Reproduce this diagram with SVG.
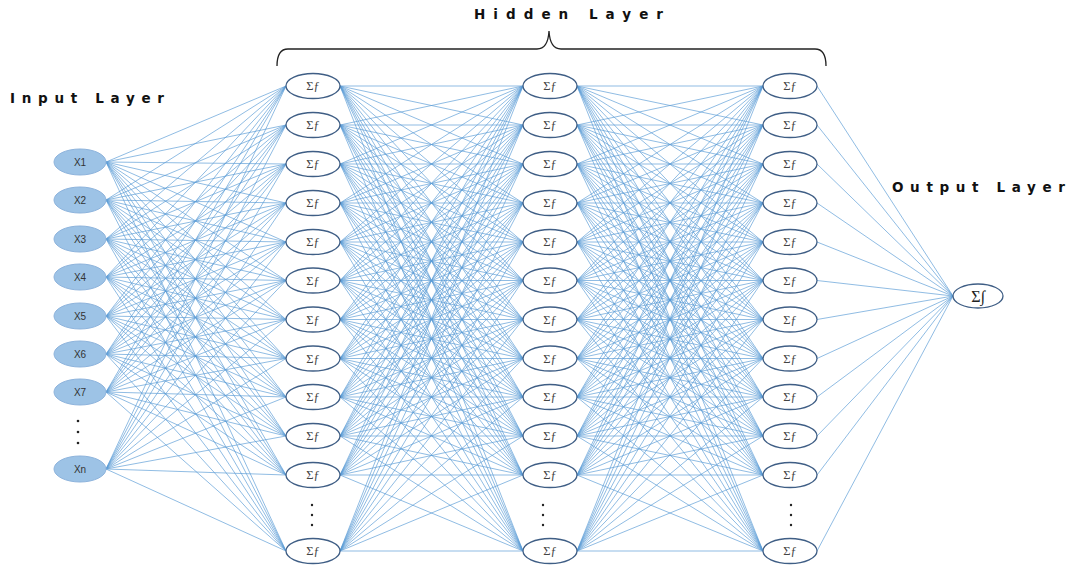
<svg xmlns="http://www.w3.org/2000/svg" width="1069" height="572" viewBox="0 0 1069 572">
<style>
.e{fill:none;stroke:#5b9bd5;stroke-width:0.75;stroke-opacity:0.9}
.in{fill:#9dc3e6;stroke:#8db3dc;stroke-width:1}
.hn{fill:#fff;stroke:#3f5e85;stroke-width:1.3}
.it{font-family:"Liberation Sans",Arial,sans-serif;font-size:10px;fill:#333;text-anchor:middle}
.ht{font-family:"Liberation Serif","DejaVu Serif",serif;font-size:12.5px;fill:#444;text-anchor:middle}
.ttl{font-family:"DejaVu Sans",sans-serif;font-weight:bold;font-size:13.5px;fill:#111}
.dot{fill:#222}
</style>
<rect width="1069" height="572" fill="#fff"/>
<g id="connectors">
<path class="e" d="M106 162 286 86M106 162 286 125M106 162 286 164M106 162 286 203M106 162 286 242M106 162 286 280.5M106 162 286 319.5M106 162 286 358.5M106 162 286 397M106 162 286 436M106 162 286 475M106 162 286 551
M106 200 286 86M106 200 286 125M106 200 286 164M106 200 286 203M106 200 286 242M106 200 286 280.5M106 200 286 319.5M106 200 286 358.5M106 200 286 397M106 200 286 436M106 200 286 475M106 200 286 551
M106 239 286 86M106 239 286 125M106 239 286 164M106 239 286 203M106 239 286 242M106 239 286 280.5M106 239 286 319.5M106 239 286 358.5M106 239 286 397M106 239 286 436M106 239 286 475M106 239 286 551
M106 277 286 86M106 277 286 125M106 277 286 164M106 277 286 203M106 277 286 242M106 277 286 280.5M106 277 286 319.5M106 277 286 358.5M106 277 286 397M106 277 286 436M106 277 286 475M106 277 286 551
M106 316 286 86M106 316 286 125M106 316 286 164M106 316 286 203M106 316 286 242M106 316 286 280.5M106 316 286 319.5M106 316 286 358.5M106 316 286 397M106 316 286 436M106 316 286 475M106 316 286 551
M106 354 286 86M106 354 286 125M106 354 286 164M106 354 286 203M106 354 286 242M106 354 286 280.5M106 354 286 319.5M106 354 286 358.5M106 354 286 397M106 354 286 436M106 354 286 475M106 354 286 551
M106 392 286 86M106 392 286 125M106 392 286 164M106 392 286 203M106 392 286 242M106 392 286 280.5M106 392 286 319.5M106 392 286 358.5M106 392 286 397M106 392 286 436M106 392 286 475M106 392 286 551
M106 469 286 86M106 469 286 125M106 469 286 164M106 469 286 203M106 469 286 242M106 469 286 280.5M106 469 286 319.5M106 469 286 358.5M106 469 286 397M106 469 286 436M106 469 286 475M106 469 286 551"/>
<path class="e" d="M340 86 523 86M340 86 523 125M340 86 523 164M340 86 523 203M340 86 523 242M340 86 523 280.5M340 86 523 319.5M340 86 523 358.5M340 86 523 397M340 86 523 436M340 86 523 475M340 86 523 551
M340 125 523 86M340 125 523 125M340 125 523 164M340 125 523 203M340 125 523 242M340 125 523 280.5M340 125 523 319.5M340 125 523 358.5M340 125 523 397M340 125 523 436M340 125 523 475M340 125 523 551
M340 164 523 86M340 164 523 125M340 164 523 164M340 164 523 203M340 164 523 242M340 164 523 280.5M340 164 523 319.5M340 164 523 358.5M340 164 523 397M340 164 523 436M340 164 523 475M340 164 523 551
M340 203 523 86M340 203 523 125M340 203 523 164M340 203 523 203M340 203 523 242M340 203 523 280.5M340 203 523 319.5M340 203 523 358.5M340 203 523 397M340 203 523 436M340 203 523 475M340 203 523 551
M340 242 523 86M340 242 523 125M340 242 523 164M340 242 523 203M340 242 523 242M340 242 523 280.5M340 242 523 319.5M340 242 523 358.5M340 242 523 397M340 242 523 436M340 242 523 475M340 242 523 551
M340 280.5 523 86M340 280.5 523 125M340 280.5 523 164M340 280.5 523 203M340 280.5 523 242M340 280.5 523 280.5M340 280.5 523 319.5M340 280.5 523 358.5M340 280.5 523 397M340 280.5 523 436M340 280.5 523 475M340 280.5 523 551
M340 319.5 523 86M340 319.5 523 125M340 319.5 523 164M340 319.5 523 203M340 319.5 523 242M340 319.5 523 280.5M340 319.5 523 319.5M340 319.5 523 358.5M340 319.5 523 397M340 319.5 523 436M340 319.5 523 475M340 319.5 523 551
M340 358.5 523 86M340 358.5 523 125M340 358.5 523 164M340 358.5 523 203M340 358.5 523 242M340 358.5 523 280.5M340 358.5 523 319.5M340 358.5 523 358.5M340 358.5 523 397M340 358.5 523 436M340 358.5 523 475M340 358.5 523 551
M340 397 523 86M340 397 523 125M340 397 523 164M340 397 523 203M340 397 523 242M340 397 523 280.5M340 397 523 319.5M340 397 523 358.5M340 397 523 397M340 397 523 436M340 397 523 475M340 397 523 551
M340 436 523 86M340 436 523 125M340 436 523 164M340 436 523 203M340 436 523 242M340 436 523 280.5M340 436 523 319.5M340 436 523 358.5M340 436 523 397M340 436 523 436M340 436 523 475M340 436 523 551
M340 475 523 86M340 475 523 125M340 475 523 164M340 475 523 203M340 475 523 242M340 475 523 280.5M340 475 523 319.5M340 475 523 358.5M340 475 523 397M340 475 523 436M340 475 523 475M340 475 523 551
M340 551 523 86M340 551 523 125M340 551 523 164M340 551 523 203M340 551 523 242M340 551 523 280.5M340 551 523 319.5M340 551 523 358.5M340 551 523 397M340 551 523 436M340 551 523 475M340 551 523 551"/>
<path class="e" d="M577 86 763 86M577 86 763 125M577 86 763 164M577 86 763 203M577 86 763 242M577 86 763 280.5M577 86 763 319.5M577 86 763 358.5M577 86 763 397M577 86 763 436M577 86 763 475M577 86 763 551
M577 125 763 86M577 125 763 125M577 125 763 164M577 125 763 203M577 125 763 242M577 125 763 280.5M577 125 763 319.5M577 125 763 358.5M577 125 763 397M577 125 763 436M577 125 763 475M577 125 763 551
M577 164 763 86M577 164 763 125M577 164 763 164M577 164 763 203M577 164 763 242M577 164 763 280.5M577 164 763 319.5M577 164 763 358.5M577 164 763 397M577 164 763 436M577 164 763 475M577 164 763 551
M577 203 763 86M577 203 763 125M577 203 763 164M577 203 763 203M577 203 763 242M577 203 763 280.5M577 203 763 319.5M577 203 763 358.5M577 203 763 397M577 203 763 436M577 203 763 475M577 203 763 551
M577 242 763 86M577 242 763 125M577 242 763 164M577 242 763 203M577 242 763 242M577 242 763 280.5M577 242 763 319.5M577 242 763 358.5M577 242 763 397M577 242 763 436M577 242 763 475M577 242 763 551
M577 280.5 763 86M577 280.5 763 125M577 280.5 763 164M577 280.5 763 203M577 280.5 763 242M577 280.5 763 280.5M577 280.5 763 319.5M577 280.5 763 358.5M577 280.5 763 397M577 280.5 763 436M577 280.5 763 475M577 280.5 763 551
M577 319.5 763 86M577 319.5 763 125M577 319.5 763 164M577 319.5 763 203M577 319.5 763 242M577 319.5 763 280.5M577 319.5 763 319.5M577 319.5 763 358.5M577 319.5 763 397M577 319.5 763 436M577 319.5 763 475M577 319.5 763 551
M577 358.5 763 86M577 358.5 763 125M577 358.5 763 164M577 358.5 763 203M577 358.5 763 242M577 358.5 763 280.5M577 358.5 763 319.5M577 358.5 763 358.5M577 358.5 763 397M577 358.5 763 436M577 358.5 763 475M577 358.5 763 551
M577 397 763 86M577 397 763 125M577 397 763 164M577 397 763 203M577 397 763 242M577 397 763 280.5M577 397 763 319.5M577 397 763 358.5M577 397 763 397M577 397 763 436M577 397 763 475M577 397 763 551
M577 436 763 86M577 436 763 125M577 436 763 164M577 436 763 203M577 436 763 242M577 436 763 280.5M577 436 763 319.5M577 436 763 358.5M577 436 763 397M577 436 763 436M577 436 763 475M577 436 763 551
M577 475 763 86M577 475 763 125M577 475 763 164M577 475 763 203M577 475 763 242M577 475 763 280.5M577 475 763 319.5M577 475 763 358.5M577 475 763 397M577 475 763 436M577 475 763 475M577 475 763 551
M577 551 763 86M577 551 763 125M577 551 763 164M577 551 763 203M577 551 763 242M577 551 763 280.5M577 551 763 319.5M577 551 763 358.5M577 551 763 397M577 551 763 436M577 551 763 475M577 551 763 551"/>
<path class="e" d="M817 86 953 296M817 125 953 296M817 164 953 296M817 203 953 296M817 242 953 296M817 280.5 953 296M817 319.5 953 296M817 358.5 953 296M817 397 953 296M817 436 953 296M817 475 953 296M817 551 953 296"/>
</g>
<g id="brace">
<path d="M277 66Q277 49 288 49L537 49Q548 49 549 31Q550 49 561 49L815 49Q826 49 826 66" fill="none" stroke="#222" stroke-width="1.3"/>
</g>
<g id="labels">
<text class="ttl" x="10" y="103" textLength="154" lengthAdjust="spacing">Input Layer</text>
<text class="ttl" x="474" y="19" textLength="189" lengthAdjust="spacing">Hidden  Layer</text>
<text class="ttl" x="892" y="192" textLength="173" lengthAdjust="spacing">Output Layer</text>
</g>
<g id="input-layer">
<g id="x1"><ellipse class="in" cx="80" cy="162" rx="26" ry="13"/><text class="it" x="80" y="165.5">X1</text></g>
<g id="x2"><ellipse class="in" cx="80" cy="200" rx="26" ry="13"/><text class="it" x="80" y="203.5">X2</text></g>
<g id="x3"><ellipse class="in" cx="80" cy="239" rx="26" ry="13"/><text class="it" x="80" y="242.5">X3</text></g>
<g id="x4"><ellipse class="in" cx="80" cy="277" rx="26" ry="13"/><text class="it" x="80" y="280.5">X4</text></g>
<g id="x5"><ellipse class="in" cx="80" cy="316" rx="26" ry="13"/><text class="it" x="80" y="319.5">X5</text></g>
<g id="x6"><ellipse class="in" cx="80" cy="354" rx="26" ry="13"/><text class="it" x="80" y="357.5">X6</text></g>
<g id="x7"><ellipse class="in" cx="80" cy="392" rx="26" ry="13"/><text class="it" x="80" y="395.5">X7</text></g>
<g id="in-dots"><circle class="dot" cx="78" cy="421" r="1.3"/><circle class="dot" cx="78" cy="432" r="1.3"/><circle class="dot" cx="78" cy="443" r="1.3"/></g>
<g id="xn"><ellipse class="in" cx="80" cy="469" rx="26" ry="13"/><text class="it" x="80" y="472.5">Xn</text></g>
</g>
<g id="hidden-1">
<g id="h1-1"><ellipse class="hn" cx="313" cy="86" rx="27" ry="12.5"/><text class="ht" x="313" y="90">Σƒ</text></g>
<g id="h1-2"><ellipse class="hn" cx="313" cy="125" rx="27" ry="12.5"/><text class="ht" x="313" y="129">Σƒ</text></g>
<g id="h1-3"><ellipse class="hn" cx="313" cy="164" rx="27" ry="12.5"/><text class="ht" x="313" y="168">Σƒ</text></g>
<g id="h1-4"><ellipse class="hn" cx="313" cy="203" rx="27" ry="12.5"/><text class="ht" x="313" y="207">Σƒ</text></g>
<g id="h1-5"><ellipse class="hn" cx="313" cy="242" rx="27" ry="12.5"/><text class="ht" x="313" y="246">Σƒ</text></g>
<g id="h1-6"><ellipse class="hn" cx="313" cy="280.5" rx="27" ry="12.5"/><text class="ht" x="313" y="284.5">Σƒ</text></g>
<g id="h1-7"><ellipse class="hn" cx="313" cy="319.5" rx="27" ry="12.5"/><text class="ht" x="313" y="323.5">Σƒ</text></g>
<g id="h1-8"><ellipse class="hn" cx="313" cy="358.5" rx="27" ry="12.5"/><text class="ht" x="313" y="362.5">Σƒ</text></g>
<g id="h1-9"><ellipse class="hn" cx="313" cy="397" rx="27" ry="12.5"/><text class="ht" x="313" y="401">Σƒ</text></g>
<g id="h1-10"><ellipse class="hn" cx="313" cy="436" rx="27" ry="12.5"/><text class="ht" x="313" y="440">Σƒ</text></g>
<g id="h1-11"><ellipse class="hn" cx="313" cy="475" rx="27" ry="12.5"/><text class="ht" x="313" y="479">Σƒ</text></g>
<g id="h1-dots"><circle class="dot" cx="312" cy="505" r="1.2"/><circle class="dot" cx="312" cy="515" r="1.2"/><circle class="dot" cx="312" cy="525" r="1.2"/></g>
<g id="h1-n"><ellipse class="hn" cx="313" cy="551" rx="27" ry="12.5"/><text class="ht" x="313" y="555">Σƒ</text></g>
</g>
<g id="hidden-2">
<g id="h2-1"><ellipse class="hn" cx="550" cy="86" rx="27" ry="12.5"/><text class="ht" x="550" y="90">Σƒ</text></g>
<g id="h2-2"><ellipse class="hn" cx="550" cy="125" rx="27" ry="12.5"/><text class="ht" x="550" y="129">Σƒ</text></g>
<g id="h2-3"><ellipse class="hn" cx="550" cy="164" rx="27" ry="12.5"/><text class="ht" x="550" y="168">Σƒ</text></g>
<g id="h2-4"><ellipse class="hn" cx="550" cy="203" rx="27" ry="12.5"/><text class="ht" x="550" y="207">Σƒ</text></g>
<g id="h2-5"><ellipse class="hn" cx="550" cy="242" rx="27" ry="12.5"/><text class="ht" x="550" y="246">Σƒ</text></g>
<g id="h2-6"><ellipse class="hn" cx="550" cy="280.5" rx="27" ry="12.5"/><text class="ht" x="550" y="284.5">Σƒ</text></g>
<g id="h2-7"><ellipse class="hn" cx="550" cy="319.5" rx="27" ry="12.5"/><text class="ht" x="550" y="323.5">Σƒ</text></g>
<g id="h2-8"><ellipse class="hn" cx="550" cy="358.5" rx="27" ry="12.5"/><text class="ht" x="550" y="362.5">Σƒ</text></g>
<g id="h2-9"><ellipse class="hn" cx="550" cy="397" rx="27" ry="12.5"/><text class="ht" x="550" y="401">Σƒ</text></g>
<g id="h2-10"><ellipse class="hn" cx="550" cy="436" rx="27" ry="12.5"/><text class="ht" x="550" y="440">Σƒ</text></g>
<g id="h2-11"><ellipse class="hn" cx="550" cy="475" rx="27" ry="12.5"/><text class="ht" x="550" y="479">Σƒ</text></g>
<g id="h2-dots"><circle class="dot" cx="543" cy="505" r="1.2"/><circle class="dot" cx="543" cy="515" r="1.2"/><circle class="dot" cx="543" cy="525" r="1.2"/></g>
<g id="h2-n"><ellipse class="hn" cx="550" cy="551" rx="27" ry="12.5"/><text class="ht" x="550" y="555">Σƒ</text></g>
</g>
<g id="hidden-3">
<g id="h3-1"><ellipse class="hn" cx="790" cy="86" rx="27" ry="12.5"/><text class="ht" x="790" y="90">Σƒ</text></g>
<g id="h3-2"><ellipse class="hn" cx="790" cy="125" rx="27" ry="12.5"/><text class="ht" x="790" y="129">Σƒ</text></g>
<g id="h3-3"><ellipse class="hn" cx="790" cy="164" rx="27" ry="12.5"/><text class="ht" x="790" y="168">Σƒ</text></g>
<g id="h3-4"><ellipse class="hn" cx="790" cy="203" rx="27" ry="12.5"/><text class="ht" x="790" y="207">Σƒ</text></g>
<g id="h3-5"><ellipse class="hn" cx="790" cy="242" rx="27" ry="12.5"/><text class="ht" x="790" y="246">Σƒ</text></g>
<g id="h3-6"><ellipse class="hn" cx="790" cy="280.5" rx="27" ry="12.5"/><text class="ht" x="790" y="284.5">Σƒ</text></g>
<g id="h3-7"><ellipse class="hn" cx="790" cy="319.5" rx="27" ry="12.5"/><text class="ht" x="790" y="323.5">Σƒ</text></g>
<g id="h3-8"><ellipse class="hn" cx="790" cy="358.5" rx="27" ry="12.5"/><text class="ht" x="790" y="362.5">Σƒ</text></g>
<g id="h3-9"><ellipse class="hn" cx="790" cy="397" rx="27" ry="12.5"/><text class="ht" x="790" y="401">Σƒ</text></g>
<g id="h3-10"><ellipse class="hn" cx="790" cy="436" rx="27" ry="12.5"/><text class="ht" x="790" y="440">Σƒ</text></g>
<g id="h3-11"><ellipse class="hn" cx="790" cy="475" rx="27" ry="12.5"/><text class="ht" x="790" y="479">Σƒ</text></g>
<g id="h3-dots"><circle class="dot" cx="791" cy="505" r="1.2"/><circle class="dot" cx="791" cy="515" r="1.2"/><circle class="dot" cx="791" cy="525" r="1.2"/></g>
<g id="h3-n"><ellipse class="hn" cx="790" cy="551" rx="27" ry="12.5"/><text class="ht" x="790" y="555">Σƒ</text></g>
</g>
<g id="output-layer">
<ellipse class="hn" cx="978" cy="296" rx="25" ry="12"/>
<text x="978" y="301.5" font-family="'Liberation Serif','DejaVu Serif',serif" font-size="16" fill="#222" text-anchor="middle">Σ∫</text>
</g>
</svg>
